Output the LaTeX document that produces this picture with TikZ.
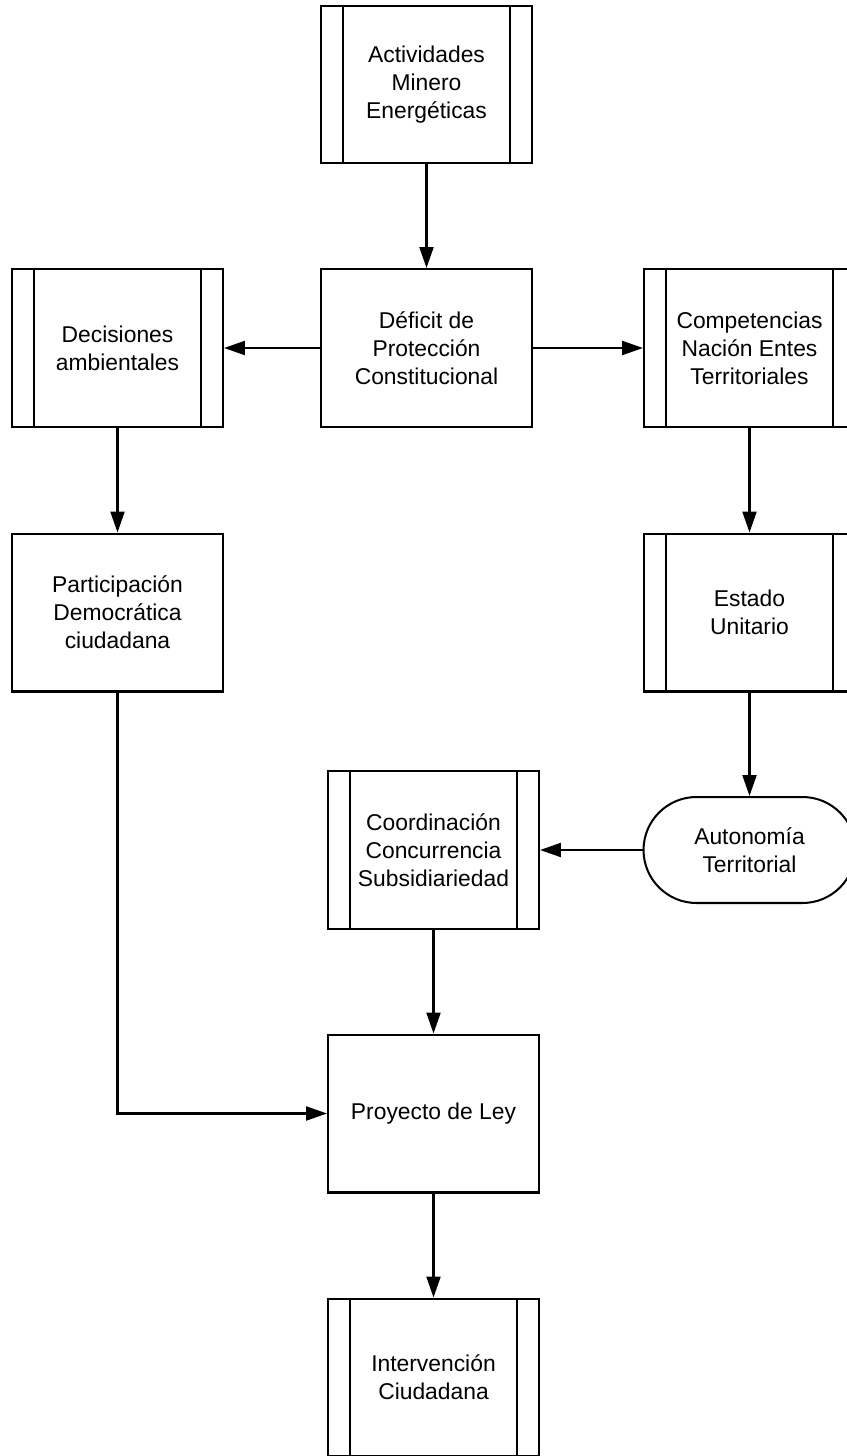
\documentclass[tikz,border=0pt]{standalone}
\usepackage{fontspec}
\setmainfont{Liberation Sans}
\usetikzlibrary{arrows.meta}

\tikzset{
  box/.style={draw, rectangle, line width=1.15pt, minimum width=4.22cm, minimum height=3.16cm,
    align=center, font=\fontsize{13}{16}\selectfont},
  subproc/.style={box, path picture={
      \draw[line width=1.15pt] ([xshift=0.44cm]path picture bounding box.north west) -- ([xshift=0.44cm]path picture bounding box.south west);
      \draw[line width=1.15pt] ([xshift=-0.44cm]path picture bounding box.north east) -- ([xshift=-0.44cm]path picture bounding box.south east);}},
  term/.style={box, minimum width=4.24cm, minimum height=2.12cm, rounded corners=1.06cm},
  link/.style={line width=1.25pt, -{Triangle[length=0.42cm, width=0.28cm]}}
}

\begin{document}
\begin{tikzpicture}[x=0.02cm, y=-0.02cm]
    \useasboundingbox (0,0) rectangle (846,1456);
    \node[subproc] (act) at (426.5, 84.5) {Actividades\\Minero\\Energéticas};
    \node[box] (def) at (426.5, 348) {Déficit de\\Protección\\Constitucional};
    \node[subproc] (dec) at (117.5, 348) {Decisiones\\ambientales};
    \node[subproc] (comp) at (749.5, 348) {Competencias\\Nación Entes\\Territoriales};
    \node[box] (part) at (117.5, 612.5) {Participación\\Democrática\\ciudadana};
    \node[subproc] (est) at (749.5, 612.5) {Estado\\Unitario};
    \node[term] (auto) at (749.5, 850) {Autonomía\\Territorial};
    \node[subproc] (coord) at (433.5, 850) {Coordinación\\Concurrencia\\Subsidiariedad};
    \node[box] (proy) at (433.5, 1113.5) {Proyecto de Ley};
    \node[subproc] (inter) at (433.5, 1377.5) {Intervención\\Ciudadana};

    \draw[link] (act) -- (def);
    \draw[link] (def) -- (dec);
    \draw[link] (def) -- (comp);
    \draw[link] (dec) -- (part);
    \draw[link] (comp) -- (est);
    \draw[link] (est) -- (auto);
    \draw[link] (auto) -- (coord);
    \draw[link] (coord) -- (proy);
    \draw[link] (part.south) |- (proy.west);
    \draw[link] (proy) -- (inter);
\end{tikzpicture}
\end{document}
